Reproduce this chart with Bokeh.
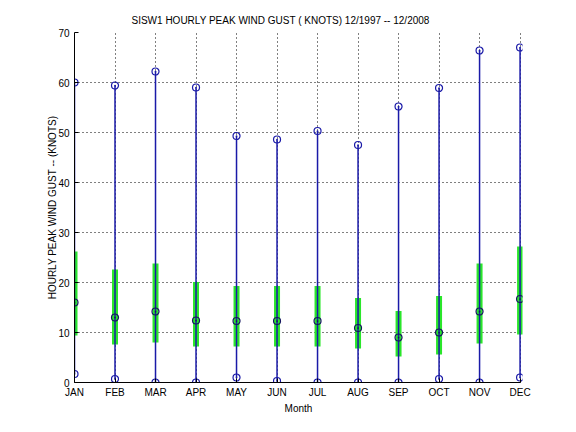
from bokeh.plotting import figure
from bokeh.models import FixedTicker, Range1d, Title, ColumnDataSource, Whisker
from bokeh.embed import file_html
from bokeh.resources import INLINE

months = ["JAN", "FEB", "MAR", "APR", "MAY", "JUN", "JUL", "AUG", "SEP", "OCT", "NOV", "DEC"]
month_num = list(range(1, 13))
gust_max = [60.0, 59.4, 62.2, 59.0, 49.3, 48.6, 50.3, 47.5, 55.2, 58.9, 66.4, 67.0]
gust_min = [1.7, 0.7, 0.0, 0.0, 1.0, 0.3, 0.0, 0.0, 0.0, 0.7, 0.0, 1.0]
gust_mean = [16.0, 13.0, 14.2, 12.4, 12.3, 12.3, 12.3, 10.9, 9.0, 10.0, 14.2, 16.7]
band_low = [9.4, 7.6, 8.0, 7.2, 7.2, 7.2, 7.2, 6.8, 5.2, 5.6, 7.8, 9.6]
band_high = [26.2, 22.6, 23.8, 20.1, 19.3, 19.3, 19.3, 16.9, 14.3, 17.3, 23.8, 27.2]
y_ticks = [0, 10, 20, 30, 40, 50, 60, 70]

src = ColumnDataSource(dict(x=month_num, mx=gust_max, mn=gust_min, mean=gust_mean,
                            lo=band_low, hi=band_high))

FONT = "Liberation Sans"
BLUE = "#1a1aa8"
GREEN = "#2ae62a"

p = figure(width=560, height=416, output_backend="svg", toolbar_location=None,
           x_range=Range1d(1, 12.06), y_range=Range1d(0, 70),
           min_border_left=74, min_border_right=38, min_border_top=32, min_border_bottom=33)
p.outline_line_color = None
p.background_fill_color = "white"
p.border_fill_color = "white"

band = Whisker(source=src, base="x", lower="lo", upper="hi", dimension="height",
               lower_head=None, upper_head=None, line_color=GREEN, line_width=6)
p.add_layout(band)
stem = Whisker(source=src, base="x", lower="mn", upper="mx", dimension="height",
               lower_head=None, upper_head=None, line_color=BLUE, line_width=1.5)
p.add_layout(stem)

p.scatter(x="x", y="mx", source=src, marker="circle_dot", size=7, line_color=BLUE,
          fill_color=None, line_width=1.2)
p.scatter(x="x", y="mn", source=src, marker="circle_dot", size=7, line_color=BLUE,
          fill_color=None, line_width=1.2)
p.scatter(x="x", y="mean", source=src, marker="circle_dot", size=7, line_color="#161660",
          fill_color=None, line_width=1.2)

t = Title(text="SISW1  HOURLY PEAK WIND GUST ( KNOTS) 12/1997 -- 12/2008", align="left",
          offset=57, text_font=FONT, text_font_size="10px", text_font_style="normal",
          text_color="black", standoff=13)
p.add_layout(t, "above")

p.xaxis.ticker = FixedTicker(ticks=month_num)
p.xaxis.major_label_overrides = {i: m for i, m in zip(month_num, months)}
p.yaxis.ticker = FixedTicker(ticks=y_ticks)
p.xaxis.axis_label = "Month"
p.yaxis.axis_label = "HOURLY PEAK WIND GUST -- (KNOTS)"
for ax in (p.xaxis, p.yaxis):
    ax.axis_line_color = "black"
    ax.major_tick_line_color = "black"
    ax.major_tick_in = 4
    ax.major_tick_out = 0
    ax.minor_tick_line_color = None
    ax.major_label_text_font = FONT
    ax.major_label_text_font_size = "10px"
    ax.major_label_text_color = "black"
    ax.axis_label_text_font = FONT
    ax.axis_label_text_font_size = "10px"
    ax.axis_label_text_font_style = "normal"
    ax.axis_label_text_color = "black"
p.xaxis.bounds = (1, 12)
p.xaxis.major_label_standoff = 4
p.xaxis.axis_label_standoff = 2
p.yaxis.major_label_standoff = 5
p.yaxis.axis_label_standoff = -3

for g in (p.xgrid, p.ygrid):
    g.grid_line_color = "black"
    g.grid_line_dash = "1 3"
    g.grid_line_width = 1
p.xgrid.ticker = FixedTicker(ticks=month_num)
p.ygrid.ticker = FixedTicker(ticks=y_ticks)
p.ygrid.bounds = (0, 70)

open("out.html", "w").write(file_html(p, INLINE))
